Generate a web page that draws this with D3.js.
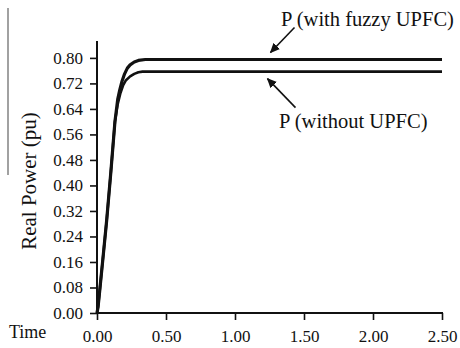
<!DOCTYPE html>
<html>
<head>
<meta charset="utf-8">
<script src="https://cdn.jsdelivr.net/npm/d3@7/dist/d3.min.js"></script>
<style>
  html, body { margin: 0; padding: 0; background: #fff; }
  svg { display: block; }
  svg text { font-family: "Liberation Serif", "Times New Roman", serif !important; fill: #111; }
</style>
</head>
<body>
<svg id="chart" width="460" height="348"></svg>
<script>
// Time samples (s) and real power (pu) for the two cases
const timeFuzzy  = [0, 0.008, 0.022, 0.045, 0.07, 0.10, 0.13, 0.15, 0.165, 0.18, 0.20, 0.22, 0.24, 0.27, 0.30, 0.35, 2.50];
const powerFuzzy = [0, 0.02, 0.08, 0.18, 0.29, 0.44, 0.60, 0.67, 0.70, 0.725, 0.75, 0.768, 0.778, 0.787, 0.792, 0.795, 0.795];

const timeNoUpfc  = [0, 0.008, 0.022, 0.045, 0.07, 0.10, 0.13, 0.15, 0.17, 0.19, 0.21, 0.24, 0.27, 0.30, 0.33, 2.50];
const powerNoUpfc = [0, 0.02, 0.08, 0.18, 0.29, 0.44, 0.60, 0.655, 0.69, 0.715, 0.73, 0.742, 0.75, 0.755, 0.757, 0.757];

const xTicks = [0, 0.5, 1.0, 1.5, 2.0, 2.5];
const yTicks = [0, 0.08, 0.16, 0.24, 0.32, 0.40, 0.48, 0.56, 0.64, 0.72, 0.80];

const labelFuzzy = "P (with fuzzy UPFC)";
const labelNoUpfc = "P (without UPFC)";
const yTitle = "Real Power (pu)";
const xTitle = "Time";
const annotationTime = 1.25;

const svg = d3.select("#chart");

const x = d3.scaleLinear().domain([0, 2.5]).range([97, 442]);
const y = d3.scaleLinear().domain([0, 0.853]).range([313, 41]);

// stray margin rule at the far left
svg.append("line")
  .attr("x1", 8).attr("x2", 8).attr("y1", 8).attr("y2", 175)
  .attr("stroke", "#8a8a8a").attr("stroke-width", 1.6);

// axes
const xAxis = d3.axisBottom(x).tickValues(xTicks).tickFormat(d3.format(".2f")).tickSize(7).tickSizeOuter(0);
const yAxis = d3.axisLeft(y).tickValues(yTicks).tickFormat(d3.format(".2f")).tickSize(7).tickSizeOuter(0);

const gx = svg.append("g").attr("transform", `translate(0,${y(0)})`).call(xAxis);
const gy = svg.append("g").attr("transform", `translate(${x(0)},0)`).call(yAxis);

[gx, gy].forEach(g => {
  g.attr("font-family", null);
  g.select(".domain").attr("stroke", "#111").attr("stroke-width", 2);
  g.selectAll(".tick line").attr("stroke", "#111").attr("stroke-width", 1.6);
  g.selectAll(".tick text").attr("font-size", 17).attr("fill", "#111");
});
gx.select(".domain").attr("d", `M${x(0)},0H${x(2.5) + 1}`);
gx.selectAll(".tick text").attr("y", 17).attr("dy", "0.71em");
gy.select(".domain").attr("d", `M0,${y(0.853)}V${y(0)}`);
gy.selectAll(".tick text").attr("x", -14);

// axis titles
svg.append("text")
  .attr("transform", `translate(36,${(y(0) + y(0.853)) / 2 + 4}) rotate(-90)`)
  .attr("text-anchor", "middle")
  .attr("font-size", 21)
  .text(yTitle);

svg.append("text")
  .attr("x", 9).attr("y", 338)
  .attr("font-size", 18)
  .text(xTitle);

// power curves
const line = d3.line().x(d => x(d[0])).y(d => y(d[1]));
const fuzzy = d3.zip(timeFuzzy, powerFuzzy);
const noUpfc = d3.zip(timeNoUpfc, powerNoUpfc);

svg.append("path").datum(noUpfc)
  .attr("d", line).attr("fill", "none")
  .attr("stroke", "#111").attr("stroke-width", 2.6)
  .attr("stroke-linejoin", "round");

svg.append("path").datum(fuzzy)
  .attr("d", line).attr("fill", "none")
  .attr("stroke", "#111").attr("stroke-width", 3.2)
  .attr("stroke-linejoin", "round");

// arrow annotations
const defs = svg.append("defs");
defs.append("marker")
  .attr("id", "head").attr("viewBox", "0 0 10 10")
  .attr("refX", 9).attr("refY", 5)
  .attr("markerWidth", 10).attr("markerHeight", 10)
  .attr("markerUnits", "userSpaceOnUse")
  .attr("orient", "auto")
  .append("path").attr("d", "M0,0.5L10,5L0,9.5z").attr("fill", "#111");

const tipTop = [x(annotationTime) + 1, y(d3.max(powerFuzzy)) - 7];
svg.append("line")
  .attr("x1", tipTop[0] + 24).attr("y1", tipTop[1] - 25)
  .attr("x2", tipTop[0]).attr("y2", tipTop[1])
  .attr("stroke", "#111").attr("stroke-width", 1.6)
  .attr("marker-end", "url(#head)");

const tipBottom = [x(annotationTime) - 2, y(d3.max(powerNoUpfc)) + 7];
svg.append("line")
  .attr("x1", tipBottom[0] + 28).attr("y1", tipBottom[1] + 29)
  .attr("x2", tipBottom[0]).attr("y2", tipBottom[1])
  .attr("stroke", "#111").attr("stroke-width", 1.6)
  .attr("marker-end", "url(#head)");

svg.append("text")
  .attr("x", 281).attr("y", 26)
  .attr("font-size", 20.5)
  .text(labelFuzzy);

svg.append("text")
  .attr("x", 279).attr("y", 128)
  .attr("font-size", 20.5)
  .text(labelNoUpfc);
</script>
</body>
</html>
